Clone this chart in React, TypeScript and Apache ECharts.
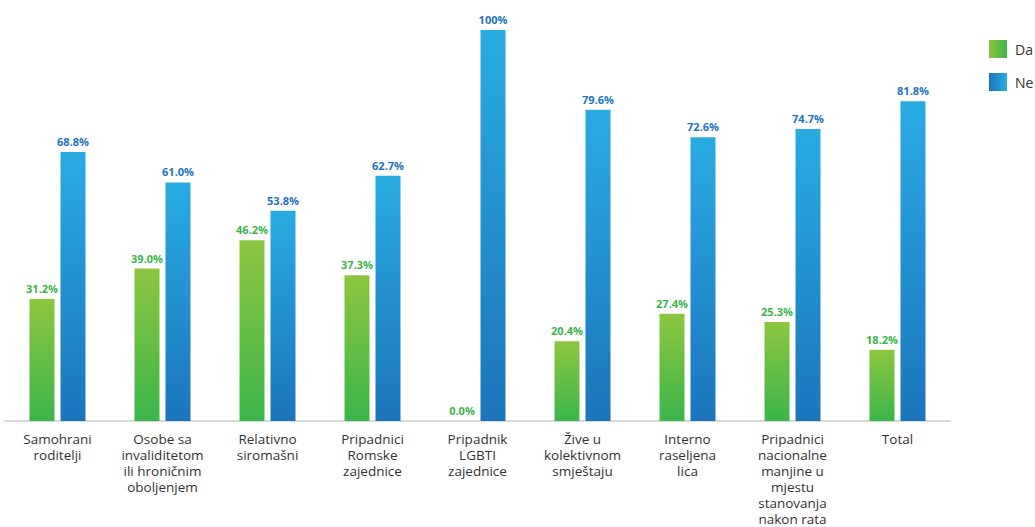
import React, { useEffect, useRef } from "react";
import * as echarts from "echarts";

const categories = [
  "Samohrani\nroditelji",
  "Osobe sa\ninvaliditetom\nili hroničnim\noboljenjem",
  "Relativno\nsiromašni",
  "Pripadnici\nRomske\nzajednice",
  "Pripadnik\nLGBTI\nzajednice",
  "Žive u\nkolektivnom\nsmještaju",
  "Interno\nraseljena\nlica",
  "Pripadnici\nnacionalne\nmanjine u\nmjestu\nstanovanja\nnakon rata",
  "Total",
];
const daValues = [31.2, 39.0, 46.2, 37.3, 0.0, 20.4, 27.4, 25.3, 18.2];
const neValues = [68.8, 61.0, 53.8, 62.7, 100.0, 79.6, 72.6, 74.7, 81.8];
const seriesNames = ["Da", "Ne"];

const greenV = new echarts.graphic.LinearGradient(0, 0, 0, 1, [
  { offset: 0, color: "#8dc63f" },
  { offset: 1, color: "#3bb54a" },
]);
const blueV = new echarts.graphic.LinearGradient(0, 0, 0, 1, [
  { offset: 0, color: "#29abe2" },
  { offset: 1, color: "#1c75bc" },
]);
const greenH = new echarts.graphic.LinearGradient(0, 0, 1, 0, [
  { offset: 0, color: "#8dc63f" },
  { offset: 1, color: "#3bb54a" },
]);
const blueH = new echarts.graphic.LinearGradient(0, 0, 1, 0, [
  { offset: 0, color: "#1c75bc" },
  { offset: 1, color: "#29abe2" },
]);

export default function App() {
  const ref = useRef<HTMLDivElement>(null);
  useEffect(() => {
    if (!ref.current) return;
    const chart = echarts.init(ref.current, undefined, { renderer: "svg" });
    chart.setOption({
      animation: false,
      textStyle: { fontFamily: "Open Sans" },
      legend: {
        orient: "vertical",
        left: 984,
        top: 35,
        itemWidth: 18,
        itemHeight: 18,
        itemGap: 15,
        icon: "rect",
        textStyle: { fontSize: 14, color: "#333", fontFamily: "Open Sans", padding: [0, 0, 0, 3] },
        data: [
          { name: seriesNames[0], itemStyle: { color: greenH } },
          { name: seriesNames[1], itemStyle: { color: blueH } },
        ],
      },
      grid: {
        left: 5,
        right: 85,
        top: 30,
        bottom: 106,
        containLabel: false,
        outerBoundsMode: "none",
      },
      xAxis: {
        type: "category",
        data: categories,
        axisLine: { lineStyle: { color: "#d9d9d9", width: 2 } },
        axisTick: { show: false },
        axisLabel: {
          interval: 0,
          margin: 10,
          fontSize: 13.5,
          lineHeight: 16,
          color: "#333",
          fontFamily: "Open Sans",
        },
      },
      yAxis: {
        type: "value",
        min: 0,
        max: 100,
        show: false,
        splitLine: { show: false },
      },
      series: [
        {
          name: seriesNames[0],
          type: "bar",
          data: daValues,
          barWidth: 25,
          barGap: "24%",
          itemStyle: { color: greenV },
          label: {
            show: true,
            position: "top",
            distance: 5,
            fontSize: 11,
            fontWeight: "bold",
            color: "#3bb54a",
            fontFamily: "Open Sans",
            formatter: (p: any) => p.value.toFixed(1) + "%",
          },
        },
        {
          name: seriesNames[1],
          type: "bar",
          data: neValues,
          barWidth: 25,
          barGap: "24%",
          itemStyle: { color: blueV },
          label: {
            show: true,
            position: "top",
            distance: 5,
            fontSize: 11,
            fontWeight: "bold",
            color: "#1c75bc",
            fontFamily: "Open Sans",
            formatter: (p: any) => p.value.toFixed(1).replace("100.0", "100") + "%",
          },
        },
      ],
    });
    return () => chart.dispose();
  }, []);
  return <div ref={ref} style={{ width: 1035, height: 527, position: "absolute", left: 0, top: 0 }} />;
}
